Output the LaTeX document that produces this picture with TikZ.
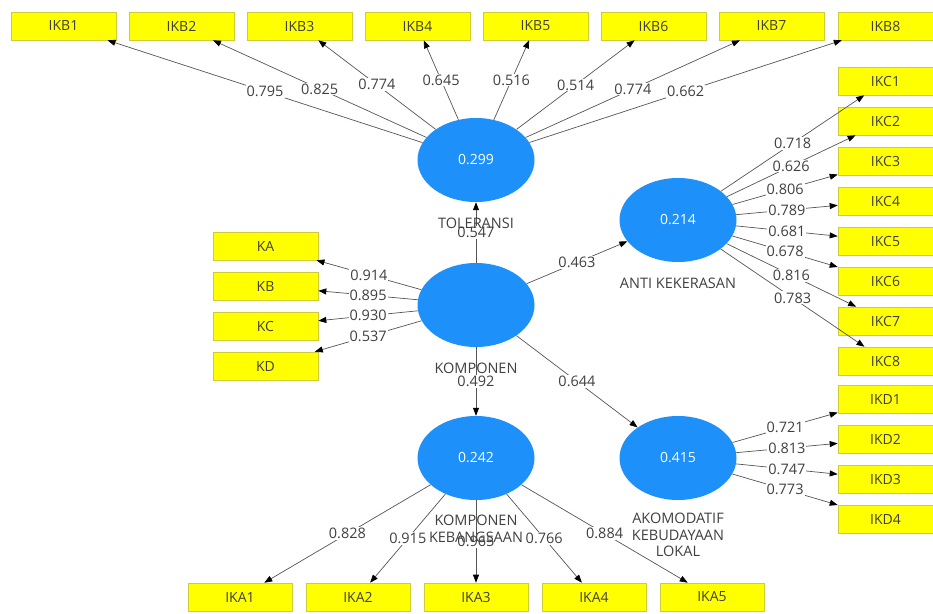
\documentclass[tikz,border=0pt]{standalone}
\usepackage{fontspec}
\setmainfont{Open Sans}
\usetikzlibrary{arrows.meta,shapes.geometric}
\definecolor{lvblue}{RGB}{30,144,250}
\definecolor{indfill}{RGB}{255,255,0}
\definecolor{indb}{RGB}{205,205,60}
\definecolor{txt}{RGB}{64,64,64}
\definecolor{lncol}{RGB}{85,85,85}
\begin{document}
\begin{tikzpicture}[x=1pt,y=-1pt,
  indbox/.style={rectangle,fill=indfill,draw=indb,line width=0.6pt,minimum width=105pt,minimum height=28pt,inner sep=0pt,font=\fontsize{14}{16}\selectfont,text=txt},
  rbox/.style={indbox,minimum width=95pt},
  lv/.style={ellipse,fill=lvblue,minimum width=117pt,minimum height=84pt,inner sep=0pt,text=white,font=\fontsize{14}{16}\selectfont},
  lnk/.style={draw=lncol,line width=0.7pt,-{Triangle[length=8pt,width=6pt,color=black]}},
  wl/.style={fill=white,inner sep=1pt,text=txt,font=\fontsize{14.5}{16}\selectfont},
  lvname/.style={text=txt,font=\fontsize{14.5}{16.5}\selectfont,align=center}
]
\useasboundingbox (0,0) rectangle (933,613);
\fill[white] (0,0) rectangle (933,613);

% latent variables
\node[lv] (tol) at (476,160) {0.299};
\node[lv] (komp) at (476,305) {};
\node[lv] (anti) at (678,220) {0.214};
\node[lv] (kk) at (476,458) {0.242};
\node[lv] (ako) at (678,458) {0.415};

% top indicators
\node[indbox] (ikb1) at (63.5,26) {IKB1};
\node[indbox] (ikb2) at (181.5,26) {IKB2};
\node[indbox] (ikb3) at (299.5,26) {IKB3};
\node[indbox] (ikb4) at (417.5,26) {IKB4};
\node[indbox] (ikb5) at (535.5,26) {IKB5};
\node[indbox] (ikb6) at (653.5,26) {IKB6};
\node[indbox] (ikb7) at (771.5,26) {IKB7};
\node[rbox] (ikb8) at (885.5,26) {IKB8};

% right indicators
\node[rbox] (ikc1) at (885.5,81) {IKC1};
\node[rbox] (ikc2) at (885.5,121) {IKC2};
\node[rbox] (ikc3) at (885.5,161) {IKC3};
\node[rbox] (ikc4) at (885.5,201) {IKC4};
\node[rbox] (ikc5) at (885.5,241) {IKC5};
\node[rbox] (ikc6) at (885.5,281) {IKC6};
\node[rbox] (ikc7) at (885.5,321) {IKC7};
\node[rbox] (ikc8) at (885.5,361) {IKC8};
\node[rbox] (ikd1) at (885.5,399) {IKD1};
\node[rbox] (ikd2) at (885.5,439) {IKD2};
\node[rbox] (ikd3) at (885.5,479) {IKD3};
\node[rbox] (ikd4) at (885.5,519) {IKD4};

% left indicators
\node[indbox] (ka) at (265.5,246) {KA};
\node[indbox] (kb) at (265.5,286) {KB};
\node[indbox] (kc) at (265.5,326) {KC};
\node[indbox] (kd) at (265.5,366) {KD};

% bottom indicators
\node[indbox,minimum width=104pt] (ika1) at (240,597) {IKA1};
\node[indbox,minimum width=104pt] (ika2) at (358,597) {IKA2};
\node[indbox,minimum width=104pt] (ika3) at (476,597) {IKA3};
\node[indbox,minimum width=104pt] (ika4) at (594,597) {IKA4};
\node[indbox,minimum width=104pt] (ika5) at (712,597) {IKA5};

% TOLERANSI outer loadings
\draw[lnk] (tol) -- node[wl]{0.795} (ikb1);
\draw[lnk] (tol) -- node[wl]{0.825} (ikb2);
\draw[lnk] (tol) -- node[wl]{0.774} (ikb3);
\draw[lnk] (tol) -- node[wl]{0.645} (ikb4);
\draw[lnk] (tol) -- node[wl]{0.516} (ikb5);
\draw[lnk] (tol) -- node[wl]{0.514} (ikb6);
\draw[lnk] (tol) -- node[wl]{0.774} (ikb7);
\draw[lnk] (tol) -- node[wl]{0.662} (ikb8);

% ANTI KEKERASAN
\draw[lnk] (anti) -- node[wl]{0.718} (ikc1);
\draw[lnk] (anti) -- node[wl]{0.626} (ikc2);
\draw[lnk] (anti) -- node[wl]{0.806} (ikc3);
\draw[lnk] (anti) -- node[wl]{0.789} (ikc4);
\draw[lnk] (anti) -- node[wl]{0.681} (ikc5);
\draw[lnk] (anti) -- node[wl]{0.678} (ikc6);
\draw[lnk] (anti) -- node[wl]{0.816} (ikc7);
\draw[lnk] (anti) -- node[wl]{0.783} (ikc8);

% AKOMODATIF
\draw[lnk] (ako) -- node[wl]{0.721} (ikd1);
\draw[lnk] (ako) -- node[wl]{0.813} (ikd2);
\draw[lnk] (ako) -- node[wl]{0.747} (ikd3);
\draw[lnk] (ako) -- node[wl]{0.773} (ikd4);

% KOMPONEN
\draw[lnk] (komp) -- node[wl]{0.914} (ka);
\draw[lnk] (komp) -- node[wl]{0.895} (kb);
\draw[lnk] (komp) -- node[wl]{0.930} (kc);
\draw[lnk] (komp) -- node[wl]{0.537} (kd);

% KOMPONEN KEBANGSAAN
\draw[lnk] (kk) -- node[wl]{0.828} (ika1);
\draw[lnk] (kk) -- node[wl]{0.915} (ika2);
\draw[lnk] (kk) -- node[wl]{0.965} (ika3);
\draw[lnk] (kk) -- node[wl]{0.766} (ika4);
\draw[lnk] (kk) -- node[wl]{0.884} (ika5);

% structural paths
\draw[lnk] (komp) -- node[wl]{0.547} (tol);
\draw[lnk] (komp) -- node[wl]{0.463} (anti);
\draw[lnk] (komp) -- node[wl]{0.492} (kk);
\draw[lnk] (komp) -- node[wl]{0.644} (ako);

% latent names
\node[lvname] (tolname) at (476,223) {TOLERANSI};
\node[lvname] (kompname) at (476,368) {KOMPONEN};
\node[lvname] (antiname) at (678,283) {ANTI KEKERASAN};
\node[lvname] (kkname) at (476,529) {KOMPONEN\\KEBANGSAAN};
\node[lvname] (akoname) at (678,535) {AKOMODATIF\\KEBUDAYAAN\\LOKAL};
\end{tikzpicture}
\end{document}
